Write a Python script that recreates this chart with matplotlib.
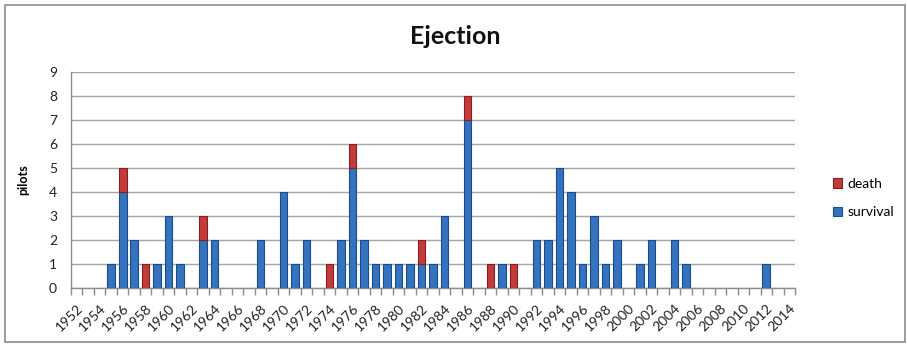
import matplotlib
matplotlib.use("Agg")
import matplotlib.pyplot as plt
from matplotlib.patches import Rectangle
import numpy as np

plt.rcParams['font.family'] = ['Lato', 'DejaVu Sans']

years = list(range(1952, 2015))
survival = [0, 0, 0, 1, 4, 2, 0, 1, 3, 1,      # 1952-1961
            0, 2, 2, 0, 0, 0, 2, 0, 4, 1,      # 1962-1971
            2, 0, 0, 2, 5, 2, 1, 1, 1, 1,      # 1972-1981
            1, 1, 3, 0, 7, 0, 0, 1, 0, 0,      # 1982-1991
            2, 2, 5, 4, 1, 3, 1, 2, 0, 1,      # 1992-2001
            2, 0, 2, 1, 0, 0, 0, 0, 0, 0,      # 2002-2011
            1, 0, 0]                           # 2012-2014
death = [0, 0, 0, 0, 1, 0, 1, 0, 0, 0,         # 1952-1961
         0, 1, 0, 0, 0, 0, 0, 0, 0, 0,         # 1962-1971
         0, 0, 1, 0, 1, 0, 0, 0, 0, 0,         # 1972-1981
         1, 0, 0, 0, 1, 0, 1, 0, 1, 0,         # 1982-1991
         0, 0, 0, 0, 0, 0, 0, 0, 0, 0,         # 1992-2001
         0, 0, 0, 0, 0, 0, 0, 0, 0, 0,         # 2002-2011
         0, 0, 0]                              # 2012-2014
series_labels = ["death", "survival"]
title = "Ejection"
y_label = "pilots"

W, H = 907, 344
fig = plt.figure(figsize=(W / 100, H / 100), dpi=100)

# chart-area frame
fig.patches.append(Rectangle((5 / W, 2 / H), 900 / W, 337 / H,
                             transform=fig.transFigure, fill=False,
                             edgecolor="#8c8c8c", linewidth=1.2))

ax = fig.add_axes([71 / W, 1 - 288 / H, (795 - 71) / W, (288 - 71.5) / H])

x = np.arange(len(years))
surv = np.array(survival, dtype=float)
dead = np.array(death, dtype=float)
blue_face, blue_edge = "#3573be", "#1c4b8a"
red_face, red_edge = "#c23b3b", "#8a1e1e"

# empty segments are skipped so they leave no outline behind
s_mask = surv > 0
d_mask = dead > 0
ax.bar(x[s_mask], surv[s_mask], width=0.66, color=blue_face,
       edgecolor=blue_edge, linewidth=0.8, zorder=3, label=series_labels[1])
ax.bar(x[d_mask], dead[d_mask], width=0.66, bottom=surv[d_mask],
       color=red_face, edgecolor=red_edge, linewidth=0.8, zorder=3,
       label=series_labels[0])

ax.set_xlim(-0.5, len(years) - 0.5)
ax.set_ylim(0, 9)
ax.set_yticks(range(0, 10))
ax.tick_params(axis="y", length=0, pad=10, labelsize=10, labelcolor="#222222")
ax.yaxis.grid(True, color="#a6a6a6", linewidth=1.0, zorder=0)

label_pos = [i for i, yr in enumerate(years) if yr % 2 == 0]
ax.set_xticks(label_pos)
ax.set_xticklabels([str(years[i]) for i in label_pos], rotation=45,
                   ha="right", rotation_mode="anchor", fontsize=10,
                   color="#222222")
ax.tick_params(axis="x", which="major", length=0, pad=10)
ax.set_xticks(np.arange(-0.5, len(years)), minor=True)
ax.tick_params(axis="x", which="minor", length=5, color="#8c8c8c", width=1)

for side in ("top", "right"):
    ax.spines[side].set_visible(False)
for side in ("left", "bottom"):
    ax.spines[side].set_color("#8c8c8c")
    ax.spines[side].set_linewidth(1.0)

ax.set_ylabel(y_label, fontsize=9, fontweight="bold", labelpad=14)

fig.text(455 / W, 1 - 37 / H, title, ha="center", va="center",
         fontsize=18, fontweight="bold", color="#111111")

handles, labels = ax.get_legend_handles_labels()
fig.legend(handles[::-1], labels[::-1], loc="center left",
           bbox_to_anchor=(820 / W, 1 - 198 / H), frameon=False,
           fontsize=10, handlelength=0.7, handleheight=0.7,
           handletextpad=0.4, labelspacing=1.2)

fig.savefig("out.png", dpi=100)
